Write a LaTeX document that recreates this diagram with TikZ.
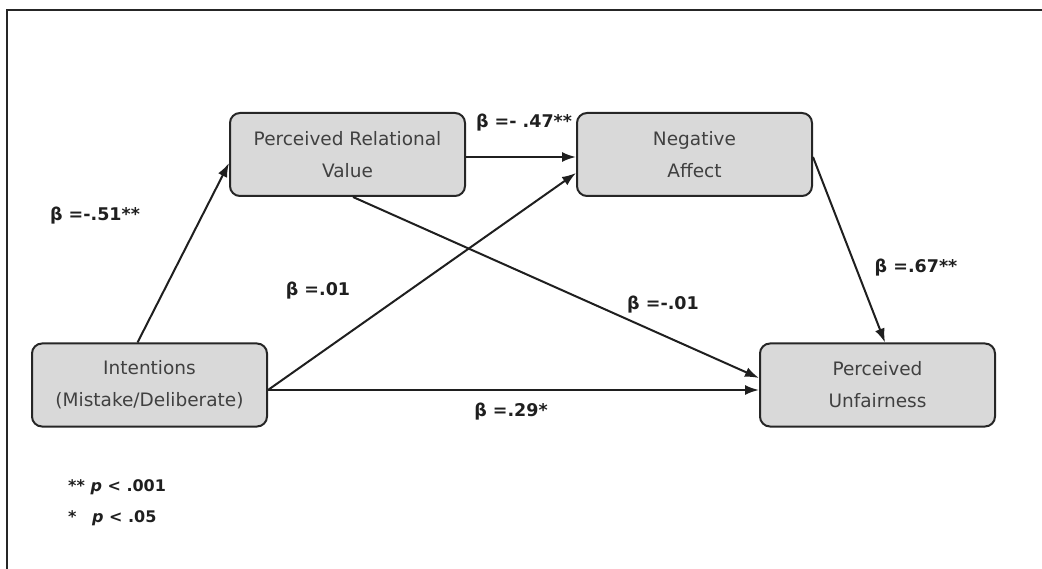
\documentclass[tikz,border=0pt]{standalone}
\usepackage{fontspec}
\setmainfont{DejaVu Sans}
\usetikzlibrary{arrows.meta}
\begin{document}
\begin{tikzpicture}[x=1pt,y=-1pt,
  varbox/.style={draw=black!85, line width=2pt, fill=black!15, rounded corners=10pt,
    minimum width=235pt, minimum height=83pt, inner sep=0pt, align=center,
    text=black!75, font=\fontsize{18.5}{32}\selectfont},
  path/.style={line width=2pt, draw=black!88, -{Latex[length=14pt,width=10pt]}},
  coef/.style={font=\bfseries\fontsize{17.5}{20}\selectfont, text=black!88, inner sep=0pt},
  note/.style={font=\bfseries\fontsize{16}{18}\selectfont, text=black!88, inner sep=0pt, anchor=west}]
  \useasboundingbox (0,0) rectangle (1042,569);
  % frame along the top and left edges
  \draw[line width=2pt, black!85] (1042,10) -- (7,10) -- (7,569);

  % variables
  \node[varbox] (prv) at (347.5,154.5) {Perceived Relational\\Value};
  \node[varbox] (na)  at (694.5,154.5) {Negative\\Affect};
  \node[varbox] (int) at (149.5,385) {Intentions\\(Mistake/Deliberate)};
  \node[varbox] (pu)  at (877.5,385) {Perceived\\Unfairness};

  % paths
  \draw[path] ([xshift=-12pt]int.north) -- ([yshift=-8.5pt]prv.west);
  \draw[path] ([yshift=-2.5pt]prv.east) -- ([yshift=-2.5pt]na.west);
  \draw[path] ([yshift=-5pt]int.east) -- ([yshift=-18.5pt]na.west);
  \draw[path] ([xshift=5.5pt]prv.south) -- ([yshift=7pt]pu.west);
  \draw[path] ([yshift=-5pt]int.east) -- ([yshift=-5pt]pu.west);
  \draw[path] ([yshift=-2.5pt]na.east) -- ([xshift=7.5pt]pu.north);

  % coefficients
  \node[coef] (c1) at (95,216) {β =-.51**};
  \node[coef] (c2) at (524,123) {β =- .47**};
  \node[coef] (c3) at (318,291) {β =.01};
  \node[coef] (c4) at (663,305) {β =-.01};
  \node[coef] (c5) at (511,412) {β =.29*};
  \node[coef] (c6) at (916,268) {β =.67**};

  % significance legend
  \node[note] (n1) at (68,487) {** \textit{p} < .001};
  \node[note] (n2) at (68,518) {*\hspace{10pt} \textit{p} < .05};
\end{tikzpicture}
\end{document}
